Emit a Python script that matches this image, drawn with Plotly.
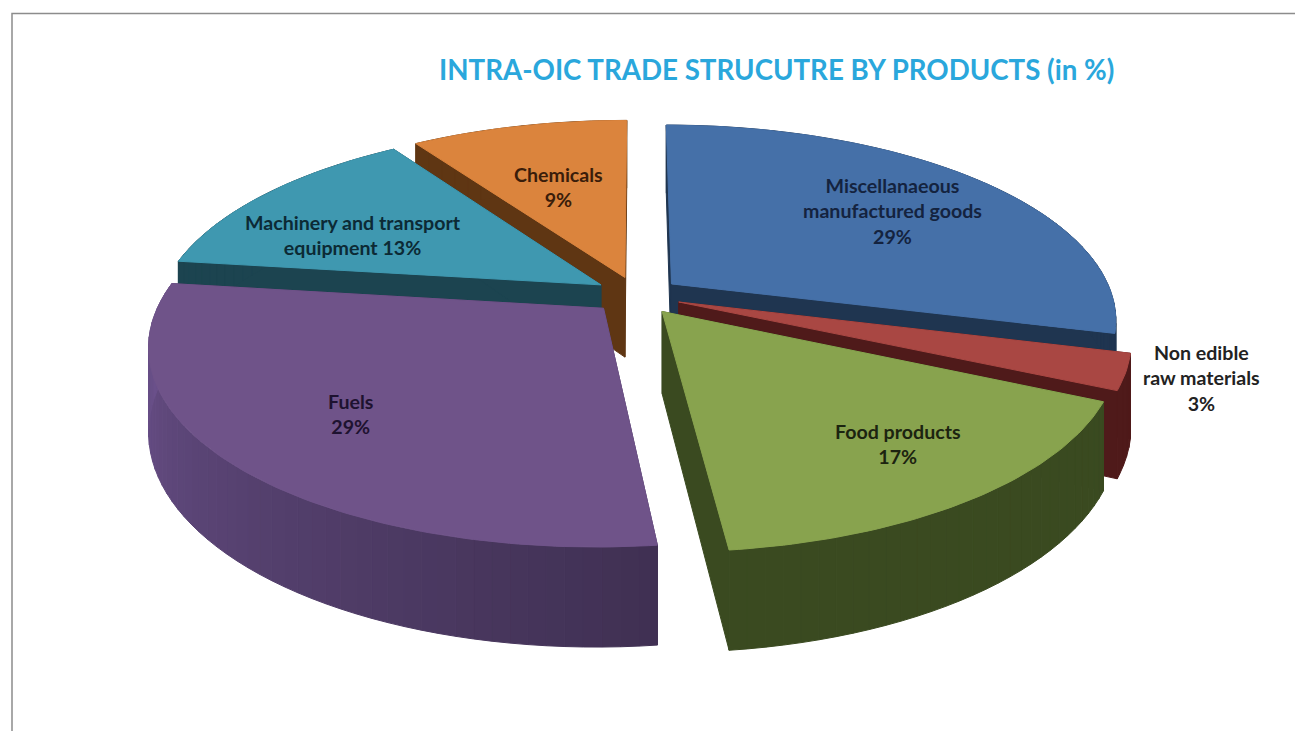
import numpy as np
import plotly.graph_objects as go

categories = ["Miscellanaeous manufactured goods", "Non edible raw materials", "Food products",
              "Fuels", "Machinery and transport equipment", "Chemicals"]
values = [29, 3, 17, 29, 13, 9]
label_texts = ["Miscellanaeous<br>manufactured goods<br>29%", "Non edible<br>raw materials<br>3%",
               "Food products<br>17%", "Fuels<br>29%", "Machinery and transport<br>equipment 13%",
               "Chemicals<br>9%"]
top_colors = ["#4570a8", "#a94743", "#88a34e", "#6f5389", "#3f98b0", "#db843d"]
wall_colors = ["#1f3550", "#4f1a1a", "#3a4a20", "#4a3860", "#1c4450", "#5f3613"]
label_colors = ["#14233f", "#222222", "#1c2410", "#1e1230", "#0c2a35", "#3a1d0a"]
title_text = "INTRA-OIC TRADE STRUCUTRE BY PRODUCTS (in %)"

CX, CY = 637, 295.5
RX, RY = 441, 191
D = 5.6
H = 81
PULL = 0.10
WARP_A, WARP_B = -1.5, 2.2  # degrees of angular distortion from the oblique view


def project(X, Y, z=0.0):
    s = D / (D - Y)
    return CX + RX * X * s, CY + RY * Y * s + z * s


def warp(a):
    return a + np.radians(WARP_A * (1 - np.cos(a)) + WARP_B * np.sin(a))


fig = go.Figure()
total = sum(values)
edges = np.concatenate([[0], np.cumsum(values)]) / total * 360
order = [5, 4, 0, 1, 2, 3]


def poly(xs, ys, color):
    fig.add_trace(go.Scatter(x=xs, y=ys, mode="lines", fill="toself", fillcolor=color,
                             line=dict(color=color, width=1), hoverinfo="skip", showlegend=False))


def shade(hex_color, f):
    r, g, b = int(hex_color[1:3], 16), int(hex_color[3:5], 16), int(hex_color[5:7], 16)
    return f"rgb({min(255,int(r*f))},{min(255,int(g*f))},{min(255,int(b*f))})"


for i in order:
    a0, a1 = np.radians(edges[i]), np.radians(edges[i + 1])
    mid = (a0 + a1) / 2
    ox, oy = PULL * np.sin(mid), -PULL * np.cos(mid)
    t = warp(np.linspace(a0, a1, max(4, int(np.degrees(a1 - a0)))))
    X = ox + np.sin(t)
    Y = oy - np.cos(t)
    # radial walls
    for ang in (t[0], t[-1]):
        ex, ey = ox + np.sin(ang), oy - np.cos(ang)
        p = [project(ox, oy), project(ex, ey), project(ex, ey, H), project(ox, oy, H)]
        poly([q[0] for q in p] + [p[0][0]], [q[1] for q in p] + [p[0][1]], wall_colors[i])
    # curved wall, in strips that darken towards the front right
    step = 2
    for k in range(0, len(t) - 1, step):
        j = min(k + step, len(t) - 1)
        xt, yt = project(X[k:j + 1], Y[k:j + 1])
        xb, yb = project(X[k:j + 1], Y[k:j + 1], H)
        deg = np.degrees(t[k]) % 360
        f = 0.85 + 0.6 * np.clip((deg - 170) / 100, 0, 1) if i == 3 else 1.0
        poly(list(xt) + list(xb[::-1]) + [xt[0]], list(yt) + list(yb[::-1]) + [yt[0]], shade(wall_colors[i], f))
    # top face
    xt, yt = project(X, Y)
    c = project(ox, oy)
    poly([c[0]] + list(xt) + [c[0]], [c[1]] + list(yt) + [c[1]], top_colors[i])

label_pos = [(892, 211), (1201, 378), (898, 444), (350, 414), (353, 235), (558, 187)]
for txt, (lx, ly), col in zip(label_texts, label_pos, label_colors):
    fig.add_annotation(x=lx, y=ly, text=txt, showarrow=False, xref="x", yref="y",
                       font=dict(family="Lato", size=19.6, color=col, weight="bold"))

fig.add_annotation(x=776.5, y=69.5, text=title_text, showarrow=False, xref="x", yref="y",
                   font=dict(family="Lato", size=27.7, color="#2aa7dc", weight="bold"))

frame_x = [12, 12, 1295]
frame_y = [731, 13.5, 13.5]
fig.add_trace(go.Scatter(x=frame_x, y=frame_y, mode="lines", line=dict(color="#8c8c8c", width=1.5),
                         hoverinfo="skip", showlegend=False))

fig.update_layout(width=1295, height=731, margin=dict(l=0, r=0, t=0, b=0), autosize=False,
                  paper_bgcolor="white", plot_bgcolor="white", showlegend=False,
                  xaxis=dict(range=[0, 1295], visible=False, fixedrange=True),
                  yaxis=dict(range=[731, 0], visible=False, fixedrange=True))
fig.write_html("out.html", config={"displayModeBar": False},
               post_script="document.body.style.margin='0';document.documentElement.style.overflow='hidden';")
